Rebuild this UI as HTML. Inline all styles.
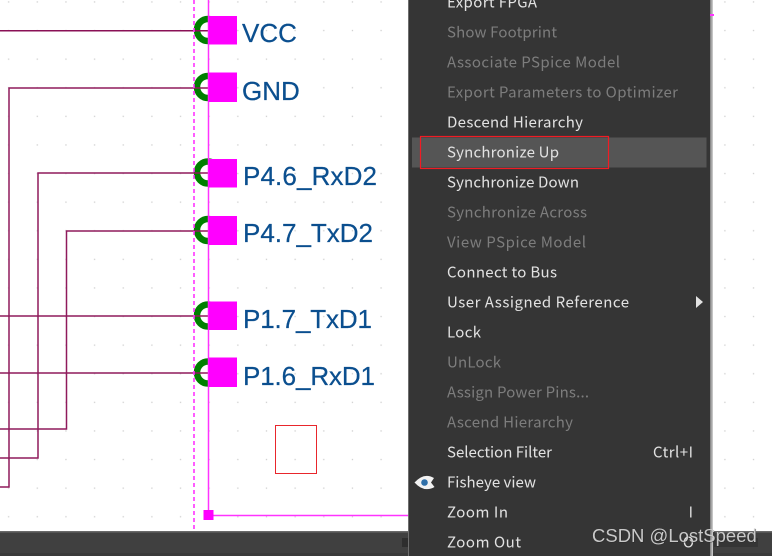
<!DOCTYPE html>
<html><head><meta charset="utf-8">
<style>
html,body{margin:0;padding:0;background:#fff;width:772px;height:556px;overflow:hidden}
svg{display:block}
.l{font-family:"Liberation Sans",sans-serif;font-size:26px;fill:#0b4f8f;stroke:#0b4f8f;stroke-width:.25px}
.m{font-family:"Noto Sans CJK SC","Liberation Sans",sans-serif;font-size:15px;fill:#e2e2e2}
.d{fill:#7d7d7d}
</style></head><body>
<svg width="772" height="556" viewBox="0 0 772 556" xmlns="http://www.w3.org/2000/svg">
<defs>
<pattern id="g" x="7.7" y="1" width="28.65" height="28.6" patternUnits="userSpaceOnUse"><rect width="1.3" height="1.3" x="0.3" y="0.3" fill="#cfcfcf"/></pattern>
<g id="c"><circle cx="208" cy="0" r="11" fill="none" stroke="#007f00" stroke-width="6.500"/></g>
</defs>
<rect width="772" height="556" fill="#fff"/>
<rect width="772" height="531" fill="url(#g)"/>
<use href="#c" y="30"/><use href="#c" y="87"/><use href="#c" y="172.500"/><use href="#c" y="230"/><use href="#c" y="315.500"/><use href="#c" y="372.500"/>
<g fill="none" stroke="#8f1a5c" stroke-width="1.500">
<path d="M0 30.700H208" stroke="#8a1056"/>
<path d="M208 88H9V487H0"/>
<path d="M208 173H38V458H0"/>
<path d="M208 231H66.500V429H0"/>
<path d="M0 316H208"/>
<path d="M0 373H208"/>
</g>
<path d="M194 0V531" stroke="#ff33ff" stroke-width="1.600" stroke-dasharray="4 3" fill="none"/>
<path d="M208.500 0V515.500H410" stroke="#ff33ff" stroke-width="1.500" fill="none"/>
<g fill="#ff00ff">
<rect x="208.500" y="16" width="28.500" height="28.500"/>
<rect x="208.500" y="72.500" width="28.500" height="29.500"/>
<rect x="208.500" y="159" width="28.500" height="28.500"/>
<rect x="208.500" y="216" width="28.500" height="29"/>
<rect x="208.500" y="301.500" width="28.500" height="28.500"/>
<rect x="208.500" y="357.500" width="28.500" height="29.500"/>
<rect x="203.500" y="510" width="10" height="10"/>
</g>
<text class="l" x="242" y="42">VCC</text>
<text class="l" x="242" y="100">GND</text>
<text class="l" x="243" y="185" textLength="134" lengthAdjust="spacing">P4.6_RxD2</text>
<text class="l" x="243" y="242" textLength="130" lengthAdjust="spacing">P4.7_TxD2</text>
<text class="l" x="243" y="328" textLength="129" lengthAdjust="spacing">P1.7_TxD1</text>
<text class="l" x="243" y="385" textLength="132" lengthAdjust="spacing">P1.6_RxD1</text>
<rect x="275.500" y="425.500" width="41" height="48" fill="none" stroke="#e8262c" stroke-width="1"/>
<rect x="0" y="531" width="772" height="25" fill="#404040"/>
<rect x="0" y="531" width="772" height="1.500" fill="#6a6a6a"/>
<rect x="0" y="553" width="772" height="3" fill="#3a3a3a"/>
<rect x="402" y="538" width="8" height="9" fill="#2e2e2e"/>
<rect x="714" y="538" width="44" height="9" fill="#353535"/>
<rect x="408" y="0" width="1.500" height="556" fill="#6e6e6e"/>
<rect x="409" y="0" width="301" height="556" fill="#353535"/>
<rect x="710" y="0" width="1.500" height="556" fill="#8a8a8a"/>
<rect x="711.500" y="0" width="1.500" height="556" fill="#c4c4c4"/>
<rect x="710" y="14" width="4" height="2" fill="#ff33ff"/>
<rect x="412" y="137.500" width="294.500" height="30" fill="#555555"/>
<rect x="420.500" y="136.500" width="188" height="32" fill="none" stroke="#f01c24" stroke-width="1.200"/>
<text class="m" x="447" y="7.500" textLength="90">Export FPGA</text>
<text class="m d" x="447" y="37.500" textLength="110">Show Footprint</text>
<text class="m d" x="447" y="67.500" textLength="173">Associate PSpice Model</text>
<text class="m d" x="447" y="97.500" textLength="231">Export Parameters to Optimizer</text>
<text class="m" x="447" y="127.500" textLength="136">Descend Hierarchy</text>
<text class="m" x="447" y="157.500" textLength="112">Synchronize Up</text>
<text class="m" x="447" y="187.500" textLength="132">Synchronize Down</text>
<text class="m d" x="447" y="217.500" textLength="140">Synchronize Across</text>
<text class="m d" x="447" y="247.500" textLength="139">View PSpice Model</text>
<text class="m" x="447" y="277.500" textLength="110">Connect to Bus</text>
<text class="m" x="447" y="307.500" textLength="182">User Assigned Reference</text>
<path d="M696 296L703 302L696 308Z" fill="#e2e2e2"/>
<text class="m" x="447" y="337.500" textLength="34">Lock</text>
<text class="m d" x="447" y="367.500" textLength="54">UnLock</text>
<text class="m d" x="447" y="397.500" textLength="142">Assign Power Pins...</text>
<text class="m d" x="447" y="427.500" textLength="126">Ascend Hierarchy</text>
<text class="m" x="447" y="457.500" textLength="105">Selection Filter</text>
<text class="m" x="653" y="457.500" textLength="40">Ctrl+I</text>
<path d="M414.500 482.500Q424 472 434 478L431 482.500L434.500 487Q424 493 414.500 482.500Z" fill="#f2f2f2"/>
<circle cx="424.500" cy="482.500" r="3.300" fill="#2f6fa8"/>
<text class="m" x="447" y="487.500" textLength="89">Fisheye view</text>
<text class="m" x="447" y="517.500" textLength="61">Zoom In</text>
<text class="m" x="693" y="517.500" text-anchor="end">I</text>
<text class="m" x="447" y="547.500" textLength="74">Zoom Out</text>
<text class="m" x="694" y="547.500" text-anchor="end">O</text>
<text x="592.500" y="542.500" font-family="Liberation Sans,sans-serif" font-size="18.500" fill="#222" opacity=".75">CSDN @LostSpeed</text>
<text x="592" y="542" font-family="Liberation Sans,sans-serif" font-size="18.500" fill="#c9c9c9">CSDN @LostSpeed</text>
</svg>
</body></html>
